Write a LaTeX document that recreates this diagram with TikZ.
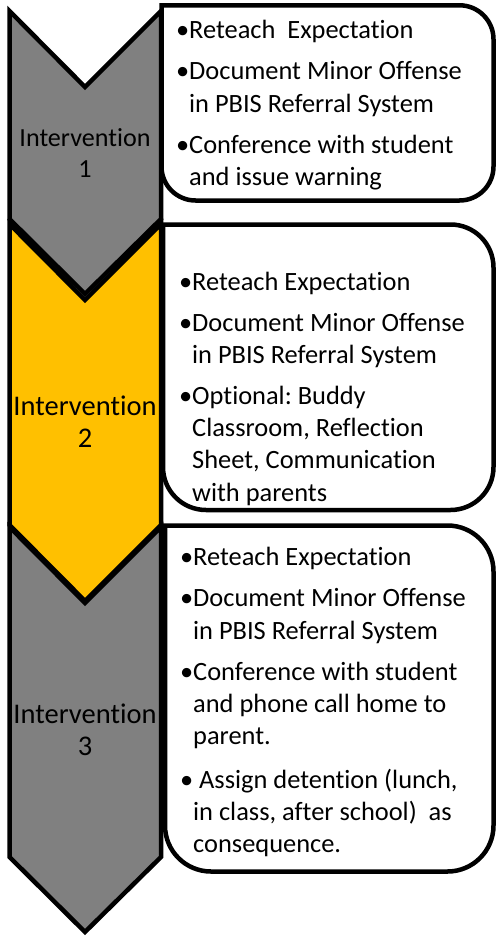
\documentclass[tikz,border=0pt]{standalone}
\usepackage{fontspec}
\setmainfont{Carlito}[Ligatures=NoCommon]
\frenchspacing
\definecolor{cgray}{HTML}{808080}
\definecolor{cyellow}{HTML}{FFC000}
\newcommand{\mybul}{\llap{\textbullet}}
\tikzset{
  chev/.style={draw=black, line width=4.5pt, line join=miter},
  infobox/.style={draw=black, line width=4.5pt, fill=white},
  boxtext/.style={anchor=base west, inner sep=0pt, font=\fontsize{26.4}{32.3}\selectfont},
  labtext/.style={anchor=base, inner sep=0pt}
}
\begin{document}
\begin{tikzpicture}[x=1pt,y=-1pt]
\useasboundingbox (0,0) rectangle (497,936);
% chevrons (bottom first)
\draw[chev, fill=cgray] (9.5,527) -- (85,603) -- (161,527) -- (161,857) -- (85,932) -- (9.5,857) -- cycle;
\draw[chev, fill=cyellow] (9.5,224) -- (85,300) -- (161,224) -- (161,525) -- (85,601) -- (9.5,525) -- cycle;
\draw[chev, fill=cgray] (9.5,11) -- (85,87) -- (161,11) -- (161,219) -- (85,294) -- (9.5,219) -- cycle;
% labels
\node[labtext, font=\fontsize{26.1}{31}\selectfont] (lab1) at (85,147) {\begin{tabular}[t]{@{}c@{}}Intervention\\1\end{tabular}};
\node[labtext, font=\fontsize{28.5}{32}\selectfont] (lab2) at (85,415) {\begin{tabular}[t]{@{}c@{}}Intervention\\2\end{tabular}};
\node[labtext, font=\fontsize{28.5}{32}\selectfont] (lab3) at (85,723) {\begin{tabular}[t]{@{}c@{}}Intervention\\3\end{tabular}};
% boxes
\draw[infobox] (161.5,5.3) [rounded corners=34pt] -- (493.5,5.3) -- (493.5,200.5) -- (161.5,200.5) [sharp corners] -- cycle;
\draw[infobox] (163,224.5) [rounded corners=43pt] -- (493.5,224.5) -- (493.5,510) -- (163,510) [sharp corners] -- cycle;
\draw[infobox] (165,525.5) [rounded corners=46pt] -- (493.5,525.5) -- (493.5,871.5) -- (165,871.5) [sharp corners] -- cycle;
% box texts
\node[boxtext] (txt1) at (189,39) {\begin{tabular}[t]{@{}l@{}}
\mybul Reteach\ \ Expectation\\[8.7pt]
\mybul Document Minor Offense\\
in PBIS Referral System\\[8.7pt]
\mybul Conference with student\\
and issue warning
\end{tabular}};
\node[boxtext] (txt2) at (192,290) {\begin{tabular}[t]{@{}l@{}}
\mybul Reteach Expectation\\[8.7pt]
\mybul Document Minor Offense\\
in PBIS Referral System\\[8.7pt]
\mybul Optional: Buddy\\
Classroom, Reflection\\
Sheet, Communication\\
with parents
\end{tabular}};
\node[boxtext] (txt3) at (193,565) {\begin{tabular}[t]{@{}l@{}}
\mybul Reteach Expectation\\[9.5pt]
\mybul Document Minor Offense\\
in PBIS Referral System\\[8.7pt]
\mybul Conference with student\\
and phone call home to\\
parent.\\[11pt]
\mybul\ Assign detention (lunch,\\
in class, after school)\ \ as\\
consequence.
\end{tabular}};
\end{tikzpicture}
\end{document}
